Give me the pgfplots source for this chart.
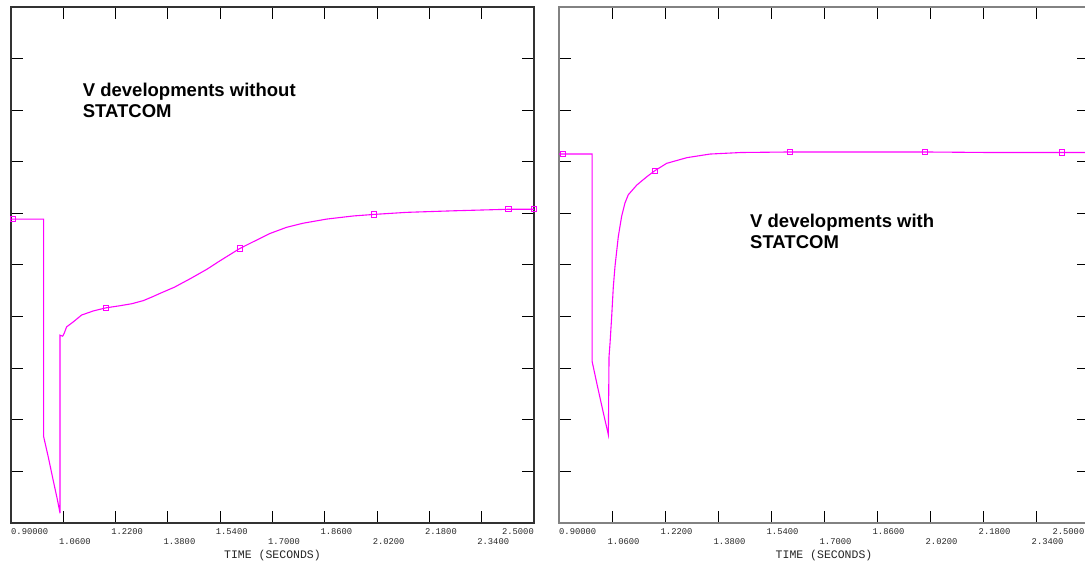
\documentclass[border=0pt]{standalone}
\usepackage{fontspec}
\setmainfont{Liberation Sans}
\newfontfamily\pixfont{Liberation Mono}
\usepackage{pgfplots}
\pgfplotsset{compat=1.18}
\definecolor{mag}{RGB}{255,0,255}
\definecolor{frameA}{RGB}{50,50,50}
\definecolor{frameB}{RGB}{130,130,130}
\newcommand{\tlf}{\pixfont\fontsize{8.8bp}{9bp}\selectfont}
\newcommand{\tla}[2]{\node[anchor=west,font=\tlf,text=black!85,inner sep=0pt,xshift=-4.5bp,yshift=-9bp] at (axis cs:#1,0) {#2};}
\newcommand{\tlb}[2]{\node[anchor=west,font=\tlf,text=black!85,inner sep=0pt,xshift=-4.5bp,yshift=-19bp] at (axis cs:#1,0) {#2};}
\pgfplotsset{
  vplot/.style={
    scale only axis, anchor=south west,
    xmin=0.9, xmax=2.5, ymin=0, ymax=10,
    xtick={1.06,1.22,1.38,1.54,1.70,1.86,2.02,2.18,2.34},
    ytick={1,2,3,4,5,6,7,8,9},
    xticklabels={}, yticklabels={},
    tick align=inside, tick pos=both,
    major tick length=12bp,
    every tick/.style={black, line width=1bp},
    clip=false,
  },
  vline/.style={mag, line width=1.1bp, mark=none},
  vmark/.style={only marks, mag, mark=square, mark size=2.6bp, mark options={line width=0.9bp}},
}
\begin{document}
\begin{tikzpicture}[x=1bp,y=1bp]
\useasboundingbox (0,0) rectangle (1085,567);
% ---------- left panel ----------
\begin{axis}[vplot, at={(11bp,44bp)}, width=523bp, height=516bp,
  axis line style={frameA, line width=1.2bp}]
\addplot[vline] coordinates {
(0.900,5.89) (1.000,5.89) (1.000,1.67) (1.014,1.28) (1.029,0.83) (1.042,0.45)
(1.050,0.19) (1.050,3.64) (1.058,3.62) (1.063,3.68) (1.070,3.80) (1.091,3.90)
(1.116,4.03) (1.152,4.11) (1.191,4.17) (1.233,4.21) (1.270,4.25) (1.305,4.31)
(1.335,4.39) (1.356,4.45) (1.400,4.57) (1.450,4.74) (1.500,4.92) (1.539,5.08)
(1.600,5.32) (1.641,5.45) (1.692,5.61) (1.743,5.73) (1.794,5.81) (1.866,5.89)
(1.947,5.95) (2.010,5.98) (2.110,6.02) (2.253,6.05) (2.422,6.08) (2.500,6.08)
};
\addplot[vmark] coordinates {
(0.906,5.89) (1.191,4.17) (1.600,5.32) (2.010,5.98) (2.422,6.08) (2.500,6.08)
};
\node[anchor=west,font=\tlf,text=black!85,inner sep=0pt,yshift=-9bp] at (axis cs:0.9,0) {0.90000};
\tlb{1.06}{1.0600}
\tla{1.22}{1.2200}
\tlb{1.38}{1.3800}
\tla{1.54}{1.5400}
\tlb{1.70}{1.7000}
\tla{1.86}{1.8600}
\tlb{2.02}{2.0200}
\tla{2.18}{2.1800}
\tlb{2.34}{2.3400}
\node[anchor=east,font=\tlf,text=black!85,inner sep=0pt,yshift=-9bp] at (axis cs:2.5,0) {2.5000};
\node[font=\pixfont\fontsize{11.5bp}{12bp}\selectfont,text=black!85,inner sep=0pt,yshift=-33bp] at (axis cs:1.7,0) {TIME (SECONDS)};
\end{axis}
% ---------- right panel ----------
\begin{axis}[vplot, at={(559bp,44bp)}, width=530bp, height=516bp,
  axis line style={frameB, line width=1.2bp}]
\addplot[vline] coordinates {
(0.900,7.15) (1.000,7.15) (1.000,3.13) (1.014,2.71) (1.034,2.13) (1.049,1.71)
(1.051,3.22) (1.054,3.48) (1.059,4.00) (1.064,4.58) (1.069,4.97) (1.079,5.55)
(1.089,5.94) (1.099,6.20) (1.109,6.36) (1.135,6.55) (1.165,6.71) (1.190,6.83)
(1.225,6.97) (1.286,7.08) (1.356,7.15) (1.450,7.18) (1.597,7.19) (2.005,7.19)
(2.200,7.18) (2.419,7.18) (2.500,7.18)
};
\addplot[vmark] coordinates {
(0.912,7.15) (1.190,6.83) (1.597,7.19) (2.005,7.19) (2.419,7.18) (2.500,7.18)
};
\node[anchor=west,font=\tlf,text=black!85,inner sep=0pt,yshift=-9bp] at (axis cs:0.9,0) {0.90000};
\tlb{1.06}{1.0600}
\tla{1.22}{1.2200}
\tlb{1.38}{1.3800}
\tla{1.54}{1.5400}
\tlb{1.70}{1.7000}
\tla{1.86}{1.8600}
\tlb{2.02}{2.0200}
\tla{2.18}{2.1800}
\tlb{2.34}{2.3400}
\node[font=\pixfont\fontsize{11.5bp}{12bp}\selectfont,text=black!85,inner sep=0pt,yshift=-33bp] at (axis cs:1.7,0) {TIME (SECONDS)};
\end{axis}
\node[anchor=east,font=\tlf,text=black!85,inner sep=0pt] at (1084.5,35) {2.5000};
% ---------- annotations ----------
\node[anchor=base west,inner sep=0pt,font=\bfseries\fontsize{18.5bp}{21bp}\selectfont] at (82.7,470.3) {V developments without};
\node[anchor=base west,inner sep=0pt,font=\bfseries\fontsize{18.5bp}{21bp}\selectfont] at (82.7,449.3) {STATCOM};
\node[anchor=base west,inner sep=0pt,font=\bfseries\fontsize{18.5bp}{21bp}\selectfont] at (750,339.7) {V developments with};
\node[anchor=base west,inner sep=0pt,font=\bfseries\fontsize{18.5bp}{21bp}\selectfont] at (750,318.7) {STATCOM};
\end{tikzpicture}
\end{document}
